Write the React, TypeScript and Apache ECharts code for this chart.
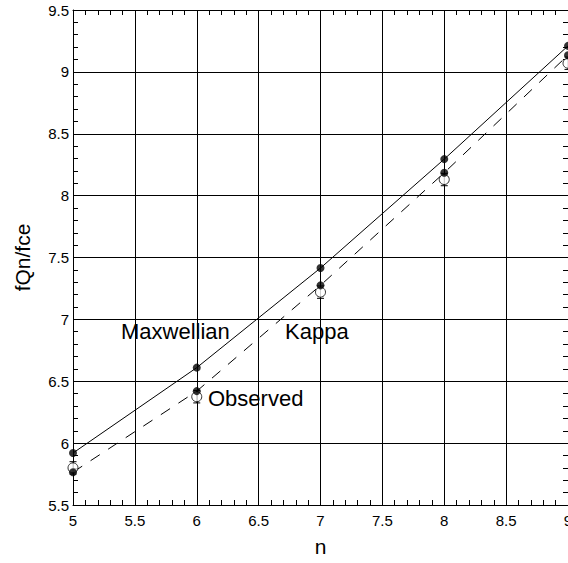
import React, { useEffect, useRef } from "react";
import * as echarts from "echarts";

const nValues = [5, 6, 7, 8, 9];
const maxwellian = [5.92, 6.61, 7.415, 8.295, 9.21];
const kappa = [5.765, 6.42, 7.275, 8.185, 9.135];
const observed = [5.8, 6.375, 7.22, 8.13, 9.07];
const observedErr = [0.05, 0.05, 0.05, 0.05, 0.05];

const labelTexts = { maxwellian: "Maxwellian", kappa: "Kappa", observed: "Observed" };

const FONT = "'Liberation Sans', Arial, Helvetica, sans-serif";

export default function App() {
  const ref = useRef<HTMLDivElement>(null);
  useEffect(() => {
    document.body.style.margin = "0";
    if (!ref.current) return;
    const chart = echarts.init(ref.current, null, { renderer: "svg" });
    const pair = (ys: number[]) => nValues.map((n, i) => [n, ys[i]]);
    const axisCommon = {
      type: "value" as const,
      interval: 0.5,
      axisLine: { show: true, onZero: false, lineStyle: { color: "#000", width: 1 } },
      axisTick: { show: true, inside: true, length: 6, lineStyle: { color: "#000" } },
      minorTick: { show: true, splitNumber: 5, length: 5, lineStyle: { color: "#000" } },
    };
    chart.setOption({
      animation: false,
      backgroundColor: "#fff",
      textStyle: { fontFamily: FONT },
      grid: { left: 73, top: 10, width: 495, height: 495, containLabel: false, outerBoundsMode: "none" },
      xAxis: [
        {
          ...axisCommon,
          min: 5,
          max: 9,
          position: "bottom",
          name: "n",
          nameLocation: "middle",
          nameGap: 31,
          nameTextStyle: { fontSize: 21, color: "#000", fontFamily: FONT },
          axisLabel: { fontSize: 15, color: "#000", margin: 8, fontFamily: FONT },
          splitLine: { show: true, lineStyle: { color: "#000", width: 1 } },
        },
        {
          ...axisCommon,
          min: 5,
          max: 9,
          position: "top",
          axisLabel: { show: false },
          splitLine: { show: false },
        },
      ],
      yAxis: [
        {
          ...axisCommon,
          min: 5.5,
          max: 9.5,
          position: "left",
          name: "fQn/fce",
          nameLocation: "middle",
          nameGap: 40,
          nameTextStyle: { fontSize: 21, color: "#000", fontFamily: FONT },
          axisLabel: { fontSize: 15, color: "#000", margin: 4, fontFamily: FONT },
          splitLine: { show: true, lineStyle: { color: "#000", width: 1 } },
        },
        {
          ...axisCommon,
          min: 5.5,
          max: 9.5,
          position: "right",
          axisLabel: { show: false },
          splitLine: { show: false },
        },
      ],
      series: [
        {
          name: "Maxwellian fit",
          type: "line",
          data: pair(maxwellian),
          showSymbol: false,
          symbol: "none",
          lineStyle: { color: "#000", width: 1 },
          z: 3,
        },
        {
          name: "Kappa fit",
          type: "line",
          data: pair(kappa),
          showSymbol: false,
          symbol: "none",
          lineStyle: { color: "#000", width: 1, type: [11, 10] },
          z: 3,
        },
        {
          name: "Observed error",
          type: "custom",
          data: nValues.map((n, i) => [n, observed[i] - observedErr[i], observed[i] + observedErr[i]]),
          renderItem: (params: any, api: any) => {
            const lo = api.coord([api.value(0), api.value(1)]);
            const hi = api.coord([api.value(0), api.value(2)]);
            const hw = 3.5;
            const st = { stroke: "#000", lineWidth: 1 };
            return {
              type: "group",
              children: [
                { type: "line", shape: { x1: lo[0], y1: lo[1], x2: hi[0], y2: hi[1] }, style: st },
                { type: "line", shape: { x1: lo[0] - hw, y1: lo[1], x2: lo[0] + hw, y2: lo[1] }, style: st },
                { type: "line", shape: { x1: hi[0] - hw, y1: hi[1], x2: hi[0] + hw, y2: hi[1] }, style: st },
              ],
            };
          },
          z: 4,
        },
        {
          name: "Observed",
          type: "scatter",
          data: pair(observed),
          symbol: "circle",
          symbolSize: 10,
          itemStyle: { color: "#fff", borderColor: "#000", borderWidth: 1 },
          z: 5,
        },
        {
          name: "Kappa",
          type: "scatter",
          data: pair(kappa),
          symbol: "circle",
          symbolSize: 8,
          itemStyle: { color: "#000" },
          z: 6,
        },
        {
          name: "Maxwellian",
          type: "scatter",
          data: pair(maxwellian),
          symbol: "circle",
          symbolSize: 8,
          itemStyle: { color: "#000" },
          z: 6,
        },
      ],
      graphic: [
        {
          type: "text",
          left: 121,
          top: 320,
          style: { text: labelTexts.maxwellian, fontSize: 22, fill: "#000", fontFamily: FONT },
          z: 10,
        },
        {
          type: "text",
          left: 285,
          top: 320,
          style: { text: labelTexts.kappa, fontSize: 22, fill: "#000", fontFamily: FONT },
          z: 10,
        },
        {
          type: "text",
          left: 208,
          top: 387,
          style: { text: labelTexts.observed, fontSize: 22, fill: "#000", fontFamily: FONT },
          z: 10,
        },
      ],
    });
    return () => chart.dispose();
  }, []);
  return <div ref={ref} style={{ width: 568, height: 563 }} />;
}
